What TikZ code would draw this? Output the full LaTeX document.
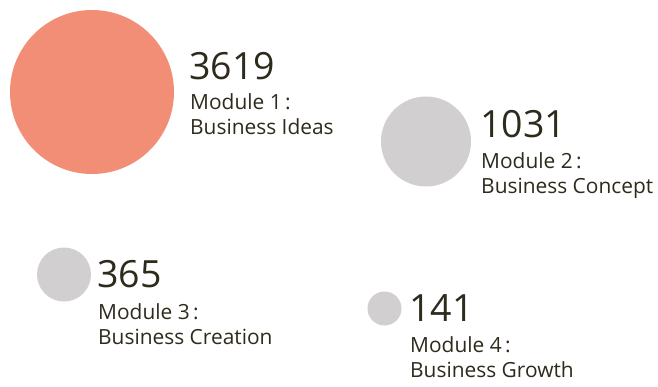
\documentclass[tikz,border=0pt]{standalone}
\usepackage{fontspec}
\setmainfont{Open Sans}
\definecolor{salmon}{HTML}{F28E76}
\definecolor{bubgray}{HTML}{D1CFD0}
\definecolor{txt}{HTML}{2E2A1C}
\begin{document}
\begin{tikzpicture}[x=1pt,y=-1pt,
  bubble/.style={circle,inner sep=0pt,draw=none},
  num/.style={anchor=base west,inner sep=0pt,text=txt,font=\fontsize{37.5}{37.5}\selectfont},
  lbl/.style={anchor=base west,inner sep=0pt,text=txt,font=\fontsize{20.9}{20.9}\selectfont}]
\useasboundingbox (0,0) rectangle (658,386);
% bubbles
\node[bubble,fill=salmon,minimum size=164pt] (c1) at (92,92) {};
\node[bubble,fill=bubgray,minimum size=90pt] (c2) at (426,141.5) {};
\node[bubble,fill=bubgray,minimum size=54pt] (c3) at (64,274.5) {};
\node[bubble,fill=bubgray,minimum size=34pt] (c4) at (384.5,308.5) {};
% labels
\node[num] (n1) at (189,79) {3619};
\node[lbl] (m1) at (190,109) {Module 1\,:};
\node[lbl] (b1) at (190,134) {Business Ideas};
\node[num] (n2) at (480,137) {1031};
\node[lbl] (m2) at (481,168) {Module 2\,:};
\node[lbl] (b2) at (481,193) {Business Concept};
\node[num] (n3) at (97,287) {365};
\node[lbl] (m3) at (98,319) {Module 3\,:};
\node[lbl] (b3) at (98,344) {Business Creation};
\node[num] (n4) at (409,321) {141};
\node[lbl] (m4) at (410,352) {Module 4\,:};
\node[lbl] (b4) at (410,377) {Business Growth};
\end{tikzpicture}
\end{document}
